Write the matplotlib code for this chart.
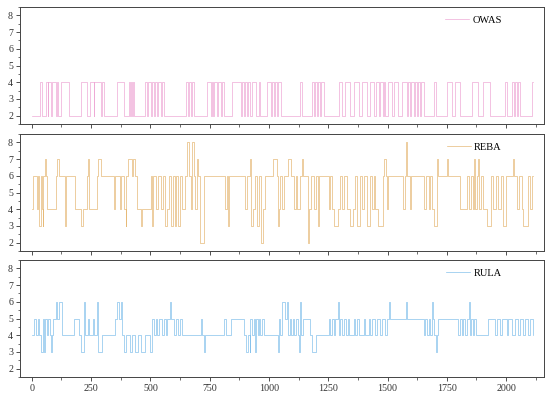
import numpy as np
import matplotlib.pyplot as plt
from matplotlib.ticker import MultipleLocator

plt.rcParams["font.family"] = ["Liberation Serif", "DejaVu Serif"]

# step change points: (frame where the score starts, score)
owas_x = [0, 35, 41, 59, 66, 69, 80, 84, 101, 105, 111, 125, 157, 209, 234, 246, 260, 263, 291, 295,
          305, 361, 389, 410, 414, 417, 424, 427, 431, 476, 487, 491, 501, 505, 515, 520, 529, 534, 543,
          548, 557, 649, 658, 663, 670, 674, 684, 740, 754, 758, 765, 770, 779, 784, 796, 800, 810, 845,
          880, 885, 894, 899, 908, 913, 922, 927, 944, 958, 962, 993, 1007, 1011, 1021, 1025, 1035, 1039,
          1049, 1130, 1139, 1181, 1188, 1193, 1202, 1207, 1217, 1221, 1231, 1294, 1308, 1322, 1343, 1357,
          1378, 1392, 1413, 1427, 1441, 1452, 1462, 1469, 1480, 1485, 1490, 1500, 1518, 1528, 1546, 1560,
          1581, 1588, 1595, 1600, 1610, 1614, 1624, 1628, 1638, 1642, 1652, 1694, 1704, 1750, 1771, 1785,
          1806, 1855, 1883, 1904, 1932, 1995, 2002, 2024, 2033, 2038, 2047, 2052, 2059, 2108]
owas_y = [2, 4] * (len(owas_x) // 2) + [2] * (len(owas_x) % 2)

reba_x = [0, 6, 21, 26, 31, 37, 41, 45, 49, 54, 61, 63, 101, 106, 114, 141, 145, 183, 207, 216, 232,
          236, 240, 273, 277, 292, 347, 351, 372, 378, 389, 395, 399, 404, 421, 427, 434, 445, 459, 463,
          501, 507, 513, 525, 534, 543, 553, 562, 572, 579, 588, 597, 602, 609, 618, 625, 635, 646, 656,
          663, 673, 677, 682, 689, 696, 702, 710, 724, 813, 821, 827, 832, 901, 908, 919, 924, 933, 943,
          950, 957, 968, 973, 983, 1018, 1032, 1037, 1043, 1048, 1057, 1065, 1079, 1091, 1105, 1112, 1119,
          1133, 1140, 1144, 1165, 1169, 1178, 1192, 1199, 1206, 1210, 1252, 1259, 1266, 1273, 1290, 1298,
          1308, 1318, 1329, 1343, 1354, 1364, 1371, 1383, 1392, 1402, 1413, 1427, 1434, 1441, 1448, 1458,
          1480, 1487, 1493, 1497, 1504, 1567, 1574, 1579, 1584, 1593, 1598, 1656, 1663, 1673, 1680, 1688,
          1698, 1708, 1712, 1753, 1757, 1806, 1837, 1844, 1852, 1859, 1866, 1871, 1876, 1880, 1885, 1893,
          1904, 1921, 1937, 1946, 1958, 1968, 1977, 1989, 2000, 2028, 2032, 2045, 2056, 2066, 2073, 2094,
          2101, 2108]
reba_y = [4, 6, 4, 6, 3, 6, 4, 3, 6, 7, 6, 4, 6, 7, 6, 3, 6, 4, 3, 4, 6,
          7, 4, 6, 7, 6, 4, 6, 4, 6, 4, 3, 6, 7, 6, 7, 6, 4, 3, 4,
          6, 3, 6, 4, 6, 4, 6, 3, 4, 6, 3, 6, 3, 6, 3, 6, 4, 6, 8,
          6, 4, 8, 6, 4, 7, 6, 2, 6, 4, 6, 3, 6, 4, 6, 7, 3, 4, 6,
          3, 6, 2, 4, 6, 7, 6, 3, 4, 6, 4, 6, 7, 6, 4, 6, 4,
          6, 7, 6, 2, 4, 6, 4, 6, 3, 6, 4, 6, 4, 3, 4, 6,
          4, 6, 4, 3, 4, 6, 3, 6, 4, 6, 3, 6, 4, 6, 4, 3,
          6, 7, 6, 4, 6, 4, 6, 8, 6, 4, 6, 4, 6, 4, 6, 4,
          3, 7, 6, 7, 6, 4, 6, 4, 6, 4, 7, 4, 6, 7, 4, 6,
          4, 3, 6, 4, 6, 4, 6, 3, 6, 7, 6, 4, 6, 4, 3, 6,
          4, 6]

rula_x = [0, 10, 17, 24, 31, 38, 45, 52, 56, 63, 69, 76, 80, 86, 90, 101, 108, 115, 127, 179, 200,
          209, 222, 226, 235, 242, 256, 263, 274, 278, 295, 351, 360, 368, 374, 382, 388, 396, 413, 424,
          435, 447, 459, 477, 497, 506, 515, 522, 529, 536, 550, 557, 564, 571, 583, 588, 600, 607, 618,
          625, 635, 712, 719, 726, 731, 810, 818, 838, 894, 905, 912, 918, 922, 929, 936, 940, 946, 953,
          959, 964, 971, 977, 1037, 1041, 1048, 1054, 1069, 1074, 1081, 1088, 1093, 1100, 1107, 1114, 1121,
          1127, 1131, 1136, 1144, 1172, 1183, 1200, 1252, 1259, 1266, 1273, 1280, 1290, 1296, 1301, 1308,
          1318, 1325, 1332, 1339, 1357, 1364, 1371, 1378, 1399, 1406, 1420, 1427, 1434, 1448, 1455, 1469,
          1476, 1490, 1497, 1507, 1511, 1579, 1583, 1652, 1659, 1666, 1673, 1680, 1687, 1691, 1696, 1705,
          1709, 1715, 1799, 1806, 1813, 1820, 1827, 1834, 1842, 1847, 1852, 1859, 1865, 1873, 1925, 1953,
          1960, 1974, 1981, 2002, 2010, 2024, 2038, 2052, 2059, 2073, 2080, 2094, 2101, 2112]
rula_y = [4, 5, 4, 5, 4, 3, 5, 3, 5, 4, 5, 4, 3, 4, 5, 6, 5, 6, 4, 5, 4,
          3, 6, 4, 5, 4, 5, 4, 6, 3, 4, 5, 6, 5, 6, 4, 3, 4, 3, 4,
          3, 4, 3, 4, 3, 5, 4, 5, 4, 5, 4, 5, 4, 5, 6, 5, 4, 5, 4,
          5, 4, 5, 4, 3, 4, 5, 4, 5, 4, 3, 4, 3, 5, 4, 5, 3, 5, 4,
          5, 4, 5, 4, 3, 5, 4, 6, 5, 6, 4, 5, 4, 5, 4, 5, 4,
          3, 6, 4, 5, 4, 3, 4, 5, 4, 5, 4, 5, 6, 4, 5, 4,
          5, 4, 5, 4, 5, 4, 5, 4, 5, 4, 5, 4, 5, 4, 5, 4,
          5, 4, 5, 6, 5, 6, 5, 4, 5, 4, 5, 4, 6, 5, 4, 3,
          4, 5, 4, 5, 4, 5, 4, 5, 6, 4, 5, 4, 5, 4, 5, 4,
          5, 4, 5, 4, 5, 4, 5, 4, 5, 4, 5, 4, 5, 4]

x_end = 2115

series = [("OWAS", owas_x, owas_y, "#eeaad6"),
          ("REBA", reba_x, reba_y, "#e6ba78"),
          ("RULA", rula_x, rula_y, "#86c2ec")]

fig = plt.figure(figsize=(5.5, 3.99), dpi=100)
W, H = 550, 399
panels = [(7, 124), (134, 251), (260, 377)]
left, right = 20, 544

for i, ((name, xs, ys, color), (top, bot)) in enumerate(zip(series, panels)):
    ax = fig.add_axes([left / W, 1 - bot / H, (right - left) / W, (bot - top) / H])
    n = min(len(xs), len(ys))
    xx = list(xs[:n]) + [x_end]
    yy = list(ys[:n]) + [ys[n - 1]]
    ax.step(xx, yy, where="post", color=color, lw=0.5, label=name)
    ax.set_xlim(-50, 2160)
    ax.set_ylim(1.5, 8.5)
    ax.xaxis.set_major_locator(MultipleLocator(250))
    ax.xaxis.set_minor_locator(MultipleLocator(125))
    ax.yaxis.set_major_locator(MultipleLocator(1))
    ax.yaxis.set_minor_locator(MultipleLocator(0.5))
    ax.tick_params(which="major", direction="out", length=3, width=0.6, labelsize=7.2,
                   colors="#333333", pad=2)
    ax.tick_params(which="minor", direction="out", length=1.8, width=0.5, colors="#333333")
    if i < 2:
        ax.tick_params(axis="x", labelbottom=False)
    for s in ax.spines.values():
        s.set_linewidth(0.7)
        s.set_color("#444444")
    ax.legend(loc="upper right", bbox_to_anchor=(0.935, 1.0), frameon=False, fontsize=7.5,
              handlelength=2.3, handletextpad=0.3, borderaxespad=0.4)

fig.savefig("out.png", dpi=100)
